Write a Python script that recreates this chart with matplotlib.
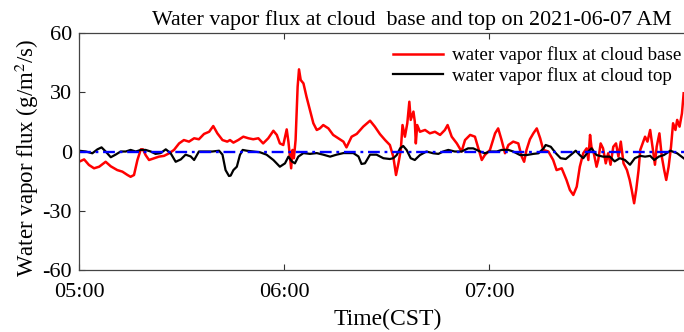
import pandas as pd
import matplotlib
matplotlib.use('Agg')
import matplotlib.pyplot as plt
import matplotlib.dates as mdates

plt.rcParams['font.family'] = ['Liberation Serif', 'DejaVu Serif']
plt.rcParams['mathtext.fontset'] = 'stix'
plt.rcParams['axes.unicode_minus'] = False

# minutes after 05:00 CST and flux values (g/m^2/s)
base_min = [0, 1.5, 2.9, 4.4, 5.9, 7.8, 9.3, 11.2, 12.7, 14.2, 15.1, 16.1, 17.1, 18.1, 18.7,
            19.5, 20.5, 22, 23.4, 24.9, 26.4, 27.8, 29.3, 30.7, 32.2, 33.7, 35.1, 36.6, 38.1,
            39.3, 40.5, 42, 43.4, 44.2, 45.2, 46.6, 48.1, 49.6, 51, 52.5, 53.9, 55.4, 56.9,
            57.9, 58.8, 59.8, 60.8, 61.3, 61.8, 62.1, 62.5, 62.9, 63.4, 64.0, 64.4, 64.9,
            65.7, 66.6, 67.6, 68.6, 69.6, 70.5, 71.5, 73, 74.4, 75.9, 77.4, 78.3, 79.8, 81.3,
            83.2, 85.2, 86.6, 88.1, 89.6, 91, 92, 92.8, 93.5, 94.2, 94.7, 95.4, 96.1, 96.7,
            97.1, 97.9, 98.3, 98.6, 99, 99.8, 101.3, 102.7, 104.2, 105.7, 107.1, 107.9, 109.1,
            110.6, 112, 113, 114.5, 115.9, 116.9, 117.9, 118.8, 120.3, 121.8, 122.7, 123.7,
            124.7, 125.7, 127.1, 128.6, 129.6, 130.3, 131, 132, 133, 134, 135, 135.9, 137.4,
            138.8, 139.8, 141.3, 142.7, 143.7, 144.7, 145.7, 146.6, 147.6, 148.6, 149.1,
            149.6, 150, 150.7, 151.5, 152, 152.7, 153.4, 154.2, 154.9, 155.6, 156.4, 157.2,
            157.9, 158.6, 159.4, 160.4, 161.2, 161.8, 162.5, 163.1, 163.8, 164.3, 165, 165.7,
            166.4, 167.2, 168, 168.6, 169.1, 169.9, 170.6, 171.3, 171.9, 172.6, 173.3, 173.9,
            174.6, 175.1, 175.8, 176.5, 177]
base_flux = [-5.2, -4, -6.8, -8.5, -7.7, -5.2, -7.5, -9.4, -10.2, -11.9, -12.8, -11.9, -4.3,
             1.1, 1.1, -1.8, -4.3, -3.4, -2.6, -2.2, -0.9, 0.8, 4.1, 5.8, 5, 6.7, 6.2, 8.9, 10,
             12.9, 9.2, 5.8, 5, 5.8, 4.5, 5.8, 7.5, 6.7, 6.2, 6.7, 4.1, 6.7, 10.5, 8.4, 4.1,
             3.3, 11.2, 5, -3.4, -8.5, 0.8, -3.4, 5.8, 32.8, 41.6, 36.2, 34.5, 27.7, 21, 14.3,
             10.9, 11.7, 13.4, 11.7, 8.4, 6.7, 5, 2.1, 7.5, 8.9, 12.6, 15.6, 12.6, 8.8, 5.8,
             3.3, -2.6, -11.9, -6, 0.8, 13.4, 7.5, 14.3, 25.2, 16, 20.2, 15.1, 4.1, 13.4, 10,
             10.9, 9.2, 10, 8.4, 10.9, 13.4, 7.5, 4.1, 0, 5.8, 8.4, 7.5, 1.6, -4.3, -1.8, 0.8,
             9.2, 11.7, 5.8, -0.9, 3.3, 5, 4.1, -2.6, -5.2, 0.8, 6.2, 9.2, 11.7, 6.7, 0.8, 0,
             -4.3, -9.4, -8.5, -14.4, -19.5, -22, -17.8, -7.7, -0.9, 1.6, -4.3, 8.4, 2.4, -0.9,
             -7.7, -4.3, 4.1, 1.6, -6, -0.9, -6.7, 2.4, 4.1, -2.6, 5, -6, -9.4, -14.4, -19.5,
             -26.2, -19.5, -9.4, 0.8, 4.1, 7.5, 5, 10.9, 0.8, -6.7, 2.4, 9.2, -2.6, -9.4,
             -14.4, -7.7, 2.4, 14.3, 10.9, 16, 12.6, 19.3, 29.5]

top_min = [0, 2, 3.9, 5.4, 6.6, 7.8, 9.3, 10.7, 12.2, 13.7, 15.1, 16.6, 18.1, 19.5, 21, 22.4,
           23.9, 25.4, 26.8, 28.3, 29.8, 31.2, 32.7, 33.7, 35.1, 37.1, 39, 41, 42, 42.9, 43.9,
           44.4, 45.2, 46.2, 47.1, 47.9, 49.1, 51, 53, 54.9, 56.9, 58.8, 60.3, 61.3, 62.3,
           63.2, 64.2, 65.7, 67.6, 69.6, 71.5, 73.5, 75.4, 77.4, 80.3, 81.8, 82.7, 83.7, 85.2,
           87.1, 89.1, 91, 92, 93, 94, 94.9, 95.9, 97.1, 98.3, 99.8, 101.7, 103.7, 105.2,
           106.6, 108.1, 110, 112, 113.9, 115.4, 117.4, 118.8, 120.3, 122.3, 123.7, 125.7,
           127.1, 129.1, 131, 133, 134.5, 136, 136.6, 138.1, 139.6, 141, 142.5, 143.9, 145.4,
           146.6, 147.6, 149.1, 150, 151.5, 153.4, 155.4, 156.8, 158.3, 159.8, 161.3, 162.7,
           164.3, 165.7, 167.2, 168.4, 169.7, 171.2, 173.1, 175.1, 177]
top_flux = [0.4, 0, -0.9, 1.1, 2.1, 0, -2.9, -1.6, 0, 0, 0.8, 0, 0.8, 0.8, 0, -1.2, -0.8, 1.1,
            -0.8, -5.2, -4, -1.6, -2.5, -4.3, 0, 0, 0, 0.4, -1.6, -9.4, -12.4, -12.2, -9.4,
            -7.7, -1.8, 0.8, 0.4, 0, -0.4, -1.6, -4.3, -7.7, -6, -2.6, -5, -6, -2.6, -0.8,
            -1.2, -0.8, -1.6, -2.6, -1.6, -0.8, -0.8, -2.5, -6.3, -6, -1.6, -1.6, -3.4, -3.8,
            -3.4, -1.8, 1.6, 2.8, 0.8, -3.4, -4.3, -1.8, 0, -0.9, -1.2, 0, 0.8, 0, 0, 1.6,
            1.6, 0, -0.9, 0, 0, 0.8, 0.8, 0, -1.8, -1.8, -1.2, -0.9, 1.6, 3.3, 2.4, -0.9,
            -3.4, -3.8, -1.8, 0.4, -1.8, -3.4, 0, 1.6, -1.8, -2.6, -2.6, -5, -3.4, -4.3, -6.7,
            -3.4, -2.2, -2.6, -2.2, -4.3, -2.6, -1.8, 0.4, -0.9, -3.4]

start = pd.Timestamp('2021-06-07 05:00')
base_time = start + pd.to_timedelta(base_min, unit='min')
top_time = start + pd.to_timedelta(top_min, unit='min')
x_end = start + pd.to_timedelta(177.1, unit='min')

fig = plt.figure(figsize=(6.84, 3.32), dpi=100)
ax = fig.add_axes([0.1155, 0.1867, 0.8845, 0.7139])

ax.plot(base_time, base_flux, color='red', linewidth=1.8, label='water vapor flux at cloud base')
ax.plot(top_time, top_flux, color='black', linewidth=1.6, label='water vapor flux at cloud top')
ax.axhline(0, color='#0000ff', linestyle=(0, (5, 2, 1.2, 2)), linewidth=1.7)

ax.set_xlim(start, x_end)
ax.set_ylim(-60, 60)
ax.set_yticks([-60, -30, 0, 30, 60])
ax.xaxis.set_major_locator(mdates.HourLocator())
ax.xaxis.set_major_formatter(mdates.DateFormatter('%H:%M'))
ax.tick_params(direction='in', length=4, width=0.8, labelsize=16, top=True, colors='#333333',
               labelcolor='black')
ax.tick_params(axis='x', pad=9)
ax.tick_params(axis='y', pad=5)
ax.spines['right'].set_visible(False)
for s in ['left', 'bottom', 'top']:
    ax.spines[s].set_color('#444444')
    ax.spines[s].set_linewidth(0.9)

# the original axes runs on past the cropped right edge, so centre the title further right
ax.set_title('Water vapor flux at cloud  base and top on 2021-06-07 AM', fontsize=15.8,
             pad=6, x=0.55)
ax.set_xlabel('Time(CST)', fontsize=17)
ax.xaxis.set_label_coords(0.51, -0.165)
ax.set_ylabel('Water vapor flux (g/m$^2$/s)', fontsize=16.5)
ax.yaxis.set_label_coords(-0.062, 0.475)
ax.legend(loc='upper right', frameon=False, fontsize=13.7, handlelength=2.6,
          bbox_to_anchor=(1.012, 0.983), borderaxespad=0.1, labelspacing=0.15,
          handletextpad=0.5)

fig.savefig('out.png', dpi=100)
